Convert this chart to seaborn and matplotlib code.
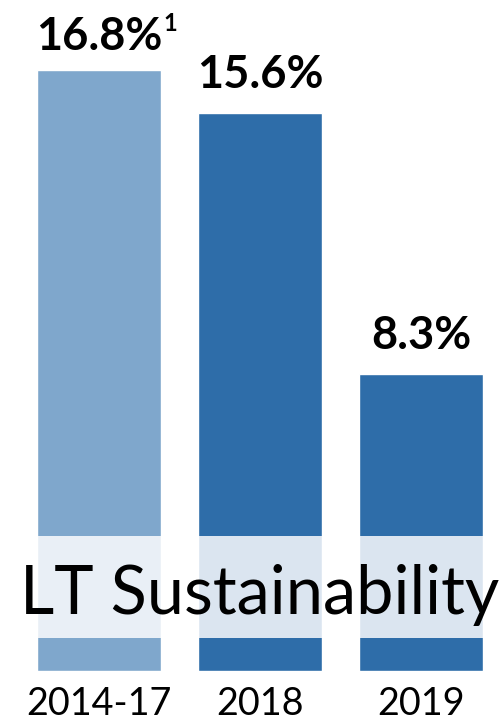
import matplotlib
matplotlib.use("Agg")
import matplotlib.pyplot as plt
import seaborn as sns
import pandas as pd

# Data
periods = ["2014-17", "2018", "2019"]
rates = [16.8, 15.6, 8.3]
notes = ["1", "", ""]
bar_colors = ["#7FA7CC", "#2E6DA9", "#2E6DA9"]
overlay_title = "LT Sustainability"

sns.set_theme(style="white")
plt.rcParams["font.family"] = ["Lato", "DejaVu Sans"]

df = pd.DataFrame({"period": periods, "rate": rates})

fig = plt.figure(figsize=(5.02, 7.25), dpi=100)
W, H = 502, 725
ax = fig.add_axes([18.5 / W, 54 / H, 483 / W, 671 / H])

sns.barplot(data=df, x="period", y="rate", hue="period", palette=bar_colors,
            width=0.77, saturation=1, legend=False, ax=ax)

ax.set_xlim(-0.5, 2.5)
ax.set_ylim(0, 671 / 35.77)
ax.set_xlabel("")
ax.set_ylabel("")
ax.set_yticks([])
for s in ax.spines.values():
    s.set_visible(False)
ax.tick_params(axis="x", length=0, pad=11, labelsize=27.2, labelcolor="black")

# Value labels above bars
for i, (v, n) in enumerate(zip(rates, notes)):
    off = 20 if n else 25
    t = ax.annotate(f"{v:.1f}%", (i, v), xytext=(0, off * 0.72),
                    textcoords="offset points", ha="center", va="baseline",
                    fontsize=32.5, fontweight="bold", color="black")
    if n:
        ax.annotate(n, (1, 1), xycoords=t, xytext=(1, 3),
                    textcoords="offset points", ha="left", va="top",
                    fontsize=17, fontweight="bold", color="black")

# Translucent band with overlaid title
ax.axhspan(0.92, 3.77, color="white", alpha=0.83, lw=0, zorder=3)
ax.text(1, (671 - 614) / 35.77, overlay_title, ha="center", va="baseline",
        fontsize=48, color="black", zorder=4)

fig.savefig("out.png", dpi=100)
